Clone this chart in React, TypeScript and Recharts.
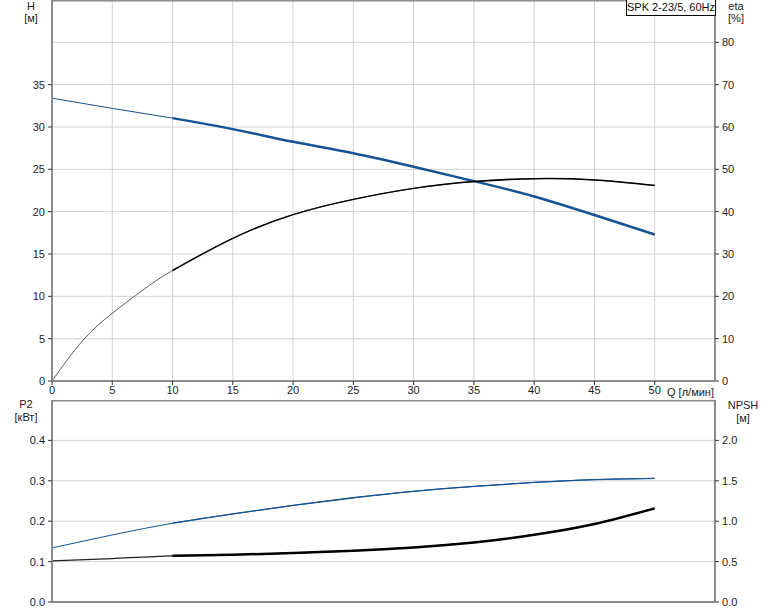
import {
  ComposedChart,
  Line,
  XAxis,
  YAxis,
  CartesianGrid,
  ReferenceLine,
} from "recharts";

// Q [л/мин]
const flow = [0, 2.5, 5, 7.5, 10, 15, 20, 25, 30, 35, 40, 45, 50];
// H [м]
const head = [33.4, null, 32.2, null, 31.05, 29.75, 28.25, 26.9, 25.3, 23.6, 21.8, 19.6, 17.3];
// eta [%]
const eta = [0, 9.4, 16.0, 21.4, 26.1, 33.7, 39.3, 42.9, 45.5, 47.1, 47.8, 47.5, 46.2];
// P2 [кВт]
const power = [0.134, null, 0.166, null, 0.195, 0.218, 0.239, 0.258, 0.274, 0.286, 0.296, 0.303, 0.306];
// NPSH [м]
const npsh = [0.509, null, 0.538, null, 0.571, 0.585, 0.605, 0.633, 0.675, 0.737, 0.832, 0.965, 1.159];

const flowTicks = [0, 5, 10, 15, 20, 25, 30, 35, 40, 45, 50];
const headTicks = [0, 5, 10, 15, 20, 25, 30, 35];
const etaTicks = [0, 10, 20, 30, 40, 50, 60, 70, 80];
const powerTicks = [0, 0.1, 0.2, 0.3, 0.4];
const npshTicks = [0, 0.5, 1.0, 1.5, 2.0];

// curves are drawn thin over the whole range, and heavier from this flow on
const thickFrom = 10;

const rows = flow.map((q, i) => ({
  q,
  h: head[i],
  hThick: q >= thickFrom ? head[i] : null,
  eta: eta[i],
  etaThick: q >= thickFrom ? eta[i] : null,
  p2: power[i],
  p2Thick: q >= thickFrom ? power[i] : null,
  npsh: npsh[i],
  npshThick: q >= thickFrom ? npsh[i] : null,
}));

const BLUE = "#175394";
const AXIS = "#8c8c8c";
const GRID = "#d2d2d2";
const tickStyle = { fill: "#222", fontSize: 11 };

const label = (left: number, top: number, text: string, align: "left" | "center" = "center") => (
  <div
    style={{
      position: "absolute",
      left: align === "center" ? left - 30 : left,
      top,
      width: align === "center" ? 60 : undefined,
      textAlign: align,
      fontSize: 11,
      lineHeight: "12px",
      color: "#222",
      whiteSpace: "nowrap",
    }}
  >
    {text}
  </div>
);

export default function App() {
  return (
    <div
      style={{
        position: "absolute",
        left: 0,
        top: 0,
        width: 774,
        height: 611,
        background: "#fff",
        fontFamily: "'Liberation Sans', Arial, sans-serif",
      }}
    >
      <div style={{ position: "absolute", left: 0, top: 0 }}>
        <ComposedChart width={774} height={400} data={rows} margin={{ top: 0, right: 0, bottom: 0, left: 0 }}>
          <CartesianGrid yAxisId="eta" stroke={GRID} strokeWidth={1} />
          <XAxis
            dataKey="q"
            type="number"
            domain={[0, 55]}
            ticks={flowTicks}
            height={19}
            tick={tickStyle}
            tickSize={4}
            tickMargin={1}
            axisLine={{ stroke: AXIS, strokeWidth: 2 }}
            tickLine={{ stroke: "#333" }}
          />
          <YAxis
            yAxisId="h"
            orientation="left"
            width={52}
            domain={[0, 45]}
            ticks={headTicks}
            tick={tickStyle}
            tickSize={4}
            tickMargin={3}
            axisLine={{ stroke: AXIS, strokeWidth: 2 }}
            tickLine={{ stroke: "#333" }}
          />
          <YAxis
            yAxisId="eta"
            orientation="right"
            width={59}
            domain={[0, 90]}
            ticks={etaTicks}
            tick={tickStyle}
            tickSize={4}
            tickMargin={3}
            axisLine={{ stroke: AXIS, strokeWidth: 2 }}
            tickLine={{ stroke: "#333" }}
          />
          <ReferenceLine yAxisId="eta" y={90} stroke={AXIS} strokeWidth={3} />
          <Line yAxisId="h" dataKey="h" stroke={BLUE} strokeWidth={1} dot={false} type="natural" connectNulls isAnimationActive={false} />
          <Line yAxisId="h" dataKey="hThick" stroke={BLUE} strokeWidth={2.5} dot={false} type="natural" connectNulls isAnimationActive={false} />
          <Line yAxisId="eta" dataKey="eta" stroke="#333" strokeWidth={0.8} dot={false} type="natural" connectNulls isAnimationActive={false} />
          <Line yAxisId="eta" dataKey="etaThick" stroke="#000" strokeWidth={1.5} dot={false} type="natural" connectNulls isAnimationActive={false} />
        </ComposedChart>
      </div>

      <div style={{ position: "absolute", left: 0, top: 400 }}>
        <ComposedChart width={774} height={211} data={rows} margin={{ top: 0, right: 0, bottom: 0, left: 0 }}>
          <CartesianGrid yAxisId="npsh" stroke={GRID} strokeWidth={1} />
          <XAxis
            dataKey="q"
            type="number"
            domain={[0, 55]}
            ticks={flowTicks}
            height={9}
            tick={false}
            tickLine={false}
            axisLine={{ stroke: AXIS, strokeWidth: 2 }}
          />
          <YAxis
            yAxisId="p2"
            orientation="left"
            width={52}
            domain={[0, 0.5]}
            ticks={powerTicks}
            tickFormatter={(v: number) => v.toFixed(1)}
            tick={tickStyle}
            tickSize={4}
            tickMargin={3}
            axisLine={{ stroke: AXIS, strokeWidth: 2 }}
            tickLine={{ stroke: "#333" }}
          />
          <YAxis
            yAxisId="npsh"
            orientation="right"
            width={59}
            domain={[0, 2.5]}
            ticks={npshTicks}
            tickFormatter={(v: number) => v.toFixed(1)}
            tick={tickStyle}
            tickSize={4}
            tickMargin={3}
            axisLine={{ stroke: AXIS, strokeWidth: 2 }}
            tickLine={{ stroke: "#333" }}
          />
          <ReferenceLine yAxisId="npsh" y={2.5} stroke={AXIS} strokeWidth={3} />
          <Line yAxisId="p2" dataKey="p2" stroke={BLUE} strokeWidth={1} dot={false} type="natural" connectNulls isAnimationActive={false} />
          <Line yAxisId="p2" dataKey="p2Thick" stroke={BLUE} strokeWidth={1.3} dot={false} type="natural" connectNulls isAnimationActive={false} />
          <Line yAxisId="npsh" dataKey="npsh" stroke="#222" strokeWidth={1.2} dot={false} type="natural" connectNulls isAnimationActive={false} />
          <Line yAxisId="npsh" dataKey="npshThick" stroke="#000" strokeWidth={2.5} dot={false} type="natural" connectNulls isAnimationActive={false} />
        </ComposedChart>
      </div>

      {label(31, 0, "H")}
      {label(31, 12, "[м]")}
      {label(736, 0, "eta")}
      {label(736, 12, "[%]")}
      {label(26, 398, "P2")}
      {label(26, 411, "[кВт]")}
      {label(743, 399, "NPSH")}
      {label(743, 412, "[м]")}
      {label(667, 386, "Q [л/мин]", "left")}
      <div
        style={{
          position: "absolute",
          left: 626,
          top: 0,
          width: 88,
          height: 15,
          border: "1px solid #000",
          borderTop: "none",
          background: "#fff",
          fontSize: 11,
          lineHeight: "15px",
          textAlign: "center",
          color: "#111",
          whiteSpace: "nowrap",
        }}
      >
        SPK 2-23/5, 60Hz
      </div>
    </div>
  );
}
